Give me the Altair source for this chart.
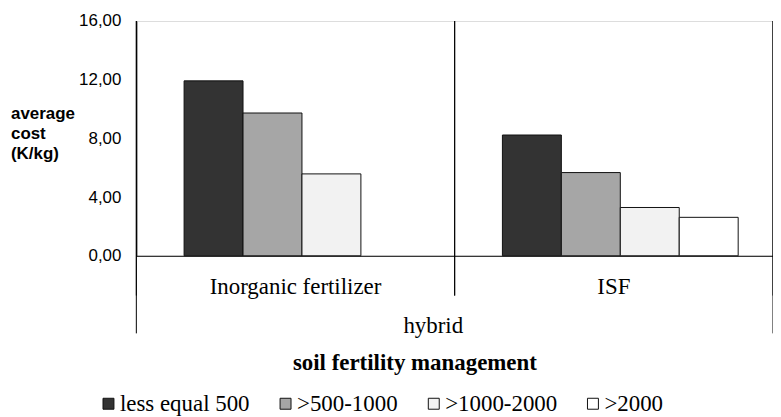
import altair as alt
import pandas as pd

categories = ["Inorganic fertilizer", "ISF"]
series = ["less equal 500", ">500-1000", ">1000-2000", ">2000"]
inorganic_values = [11.92, 9.73, 5.58, None]
isf_values = [8.23, 5.67, 3.29, 2.62]
colors = ["#333333", "#A6A6A6", "#F2F2F2", "#FFFFFF"]
y_ticks = [0, 4, 8, 12, 16]

rows = []
for cat, vals in zip(categories, [inorganic_values, isf_values]):
    for s, v in zip(series, vals):
        if v is not None:
            rows.append({"category": cat, "series": s, "value": v})
df = pd.DataFrame(rows)
cat_df = pd.DataFrame({"category": categories})

serif = "Liberation Serif"
sans = "Liberation Sans"

x_axis = alt.Axis(
    labelAngle=0, ticks=False, tickSize=0, domain=True, domainColor="black",
    labelFont=serif, labelFontSize=23, labelColor="black",
    labelBaseline="alphabetic", labelPadding=38,
    title="hybrid", titleFont=serif, titleFontSize=23, titleFontWeight="normal",
    titleColor="black", titleX=298, titleY=77.5, titleBaseline="alphabetic",
    titleAlign="center", grid=False,
)


def x_enc(band=0.5):
    return alt.X("category:N", sort=categories, bandPosition=band,
                 scale=alt.Scale(paddingInner=0, paddingOuter=0), axis=x_axis)


bars = alt.Chart(df).mark_bar(stroke="#111111", strokeWidth=1).encode(
    x=alt.X("category:N", sort=categories,
            scale=alt.Scale(paddingInner=0, paddingOuter=0), axis=x_axis),
    xOffset=alt.XOffset("series:N", sort=series,
                        scale=alt.Scale(domain=series, range=[48, 285])),
    y=alt.Y("value:Q", scale=alt.Scale(domain=[0, 16], nice=False),
            axis=alt.Axis(
                values=y_ticks, grid=False, ticks=False, domain=True,
                domainColor="black", labelFont=sans, labelFontSize=17,
                labelColor="black", labelPadding=15.5,
                labelExpr="replace(format(datum.value, '.2f'), '.', ',')",
                title=["average", "cost", "(K/kg)"], titleFont=sans,
                titleFontSize=17, titleFontWeight="bold", titleColor="black",
                titleAngle=0, titleAlign="left", titleBaseline="alphabetic",
                titleX=-126.5, titleY=98, titleLineHeight=20,
            )),
    color=alt.Color("series:N", sort=series,
                    scale=alt.Scale(domain=series, range=colors),
                    legend=alt.Legend(
                        title=None, orient="none", direction="horizontal",
                        legendX=-43.5, legendY=373, symbolType="square",
                        symbolSize=121, symbolStrokeColor="#111111",
                        symbolStrokeWidth=1, symbolOpacity=1, symbolOffset=4,
                        labelFont=serif, labelFontSize=23, labelColor="black",
                        labelOffset=0, columnPadding=20, labelLimit=300,
                    )),
)

rule_start = alt.Chart(cat_df).mark_rule(color="black", strokeWidth=1).encode(
    x=x_enc(0), y=alt.value(0), y2=alt.value(276))
rule_end = alt.Chart(cat_df).mark_rule(color="black", strokeWidth=1).encode(
    x=x_enc(1), y=alt.value(0), y2=alt.value(276))
rule_left = alt.Chart(cat_df).transform_filter(
    alt.datum.category == categories[0]
).mark_rule(color="black", strokeWidth=1).encode(
    x=x_enc(0), y=alt.value(0), y2=alt.value(314))
rule_right = alt.Chart(cat_df).transform_filter(
    alt.datum.category == categories[-1]
).mark_rule(color="black", strokeWidth=1).encode(
    x=x_enc(1), y=alt.value(0), y2=alt.value(314))

chart = alt.layer(rule_start, rule_end, rule_left, rule_right, bars).properties(
    width=640, height=236,
    autosize=alt.AutoSizeParams(type="none"),
    padding={"left": 129, "top": 12, "right": 0, "bottom": 161},
    title=alt.TitleParams(
        "soil fertility management", orient="bottom", anchor="middle",
        frame="group", font=serif, fontSize=23, fontWeight="bold",
        color="black", dx=-40, dy=-74, offset=10, baseline="top",
    ),
).configure_view(stroke=None).configure(background="white")

chart.save("out.html", embed_options={"renderer": "svg", "actions": False})
